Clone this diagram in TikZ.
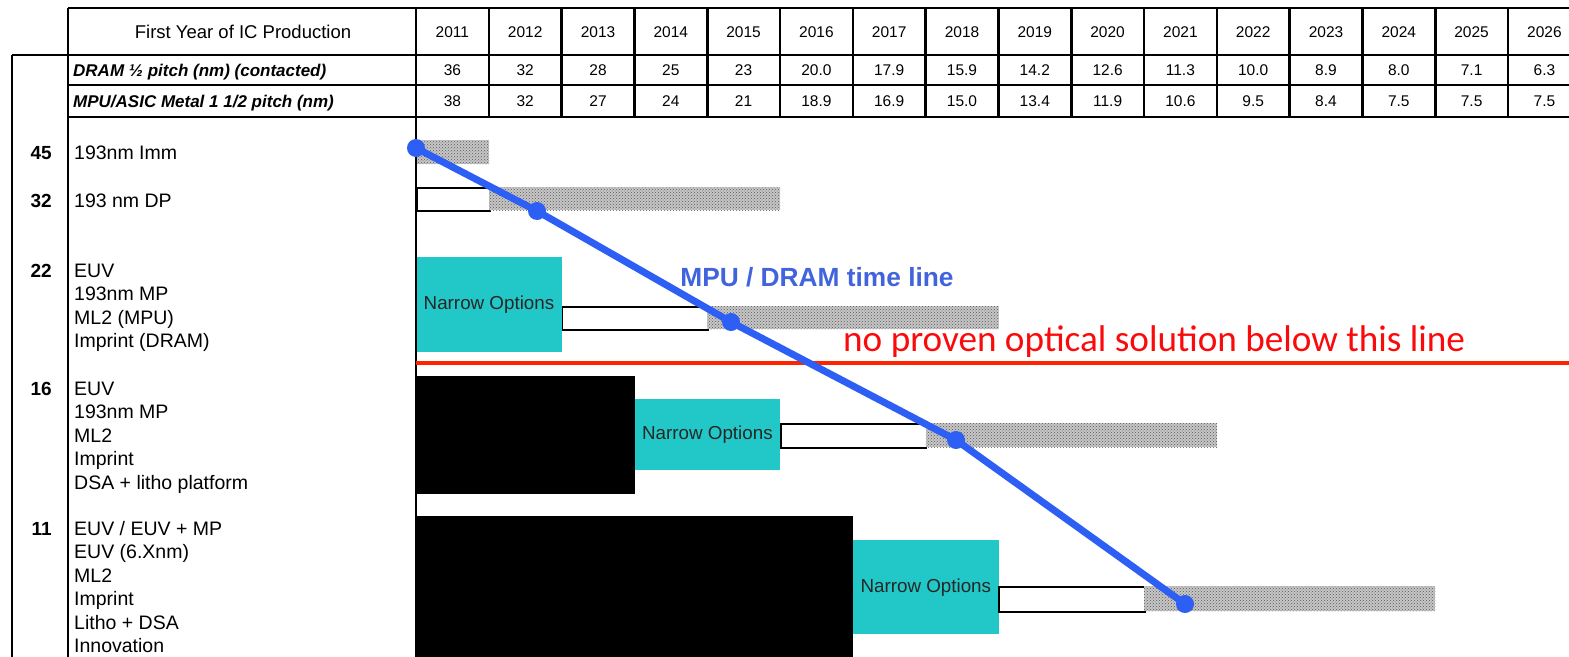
\documentclass[tikz,border=0pt]{standalone}
\usepackage{fontspec}
\setmainfont{Liberation Sans}
\newfontfamily\calib{Carlito}
\usetikzlibrary{patterns}

\definecolor{tealbox}{RGB}{34,200,200}
\definecolor{tlblue}{RGB}{45,95,245}
\definecolor{tltext}{RGB}{65,100,220}
\definecolor{limitred}{RGB}{255,35,0}
\definecolor{limittext}{RGB}{250,10,10}

\tikzset{
  grid/.style={line width=2.6pt},
  cell/.style={font=\fontsize{15.5}{18}\selectfont, inner sep=0},
  rowhead/.style={font=\fontsize{17}{19}\selectfont\bfseries\itshape, anchor=base west, inner sep=0},
  tech/.style={font=\fontsize{19.5}{23}\selectfont, anchor=base west, inner sep=0},
  num/.style={font=\fontsize{19}{23}\selectfont\bfseries, anchor=base east, inner sep=0},
  narrow/.style={fill=tealbox, minimum width=145.6pt, anchor=north west, inner sep=0,
                 font=\fontsize{18.8}{20}\selectfont, text=black!85},
  pending/.style={draw, line width=1.8pt, fill=white, minimum width=145.6pt,
                  anchor=north west, inner sep=0},
  hatch/.style={preaction={fill=gray!45}, pattern=crosshatch dots, pattern color=gray!70!black,
                minimum width=291.2pt, anchor=north west, inner sep=0},
  solid/.style={fill=black, anchor=north west, inner sep=0},
  dot/.style={circle, fill=tlblue, minimum size=18pt, inner sep=0},
  timeline/.style={tlblue, line width=7pt},
}

\begin{document}
\begin{tikzpicture}[x=1pt, y=-1pt]
\useasboundingbox (0,0) rectangle (1569,656);
\clip (0,0) rectangle (1569,656);

% ---------- header table ----------
\node[cell, font=\fontsize{18.5}{20}\selectfont] (hdr) at (243,32) {First Year of IC Production};
\node[rowhead] (dram) at (73,76) {DRAM \textonehalf\ pitch (nm) (contacted)};
\node[rowhead] (mpu) at (73,107) {MPU/ASIC Metal 1 1/2 pitch (nm)};

\foreach \yr [count=\i from 0] in {2011,2012,2013,2014,2015,2016,2017,2018,2019,2020,2021,2022,2023,2024,2025,2026}
  \node[cell] (yr\i) at ({416+(\i+0.5)*72.8},32) {\yr};
\foreach \v [count=\i from 0] in {36,32,28,25,23,20.0,17.9,15.9,14.2,12.6,11.3,10.0,8.9,8.0,7.1,6.3}
  \node[cell] (dr\i) at ({416+(\i+0.5)*72.8},70) {\v};
\foreach \v [count=\i from 0] in {38,32,27,24,21,18.9,16.9,15.0,13.4,11.9,10.6,9.5,8.4,7.5,7.5,7.5}
  \node[cell] (mp\i) at ({416+(\i+0.5)*72.8},101) {\v};

\draw[grid] (68,8) -- (1600,8);
\draw[grid] (12,55) -- (1600,55);
\draw[grid] (68,85) -- (1600,85);
\draw[grid] (68,117) -- (1600,117);
\foreach \i in {1,...,16}
  \draw[grid] ({416+\i*72.8},8) -- ({416+\i*72.8},117);
\draw[grid] (12,55) -- (12,660);
\draw[grid] (68,8) -- (68,660);

% ---------- technology options ----------
\node[num] (n45) at (52,159) {45};
\node[tech] (t45) at (74,159) {193nm Imm};
\node[num] (n32) at (52,207) {32};
\node[tech] (t32) at (74,207) {193 nm DP};

\node[num] (n22) at (52,277) {22};
\foreach \t [count=\j from 0] in {EUV,193nm MP,ML2 (MPU),Imprint (DRAM)}
  \node[tech] (t22-\j) at (74,{277+23.5*\j}) {\t};

\node[num] (n16) at (52,395) {16};
\foreach \t [count=\j from 0] in {EUV,193nm MP,ML2,Imprint,DSA + litho platform}
  \node[tech] (t16-\j) at (74,{395+23.5*\j}) {\t};

\node[num] (n11) at (52,535) {11};
\foreach \t [count=\j from 0] in {EUV / EUV + MP,EUV (6.Xnm),ML2,Imprint,Litho + DSA,Innovation}
  \node[tech] (t11-\j) at (74,{535+23.5*\j}) {\t};

% ---------- bars ----------
% 45 nm
\node[hatch, minimum width=72.8pt, minimum height=24pt] (g45) at (416,140) {};
% 32 nm
\node[pending, minimum width=72.8pt, minimum height=23pt] (w32) at (416,187) {};
\node[hatch, minimum height=23pt] (g32) at (488.8,187) {};
% 22 nm
\node[narrow, minimum height=95pt] (o22) at (416,257) {Narrow Options};
\node[pending, minimum height=23pt] (w22) at (561.6,306) {};
\node[hatch, minimum height=23pt] (g22) at (707.2,306) {};
% 16 nm
\node[solid, minimum width=218.4pt, minimum height=118pt] (b16) at (416,376) {};
\node[narrow, minimum height=71pt] (o16) at (634.4,399) {Narrow Options};
\node[pending, minimum height=24pt] (w16) at (780,423) {};
\node[hatch, minimum height=24pt] (g16) at (925.6,423) {};
% 11 nm
\node[solid, minimum width=436.8pt, minimum height=160pt] (b11) at (416,516) {};
\node[narrow, minimum height=94pt] (o11) at (852.8,540) {Narrow Options};
\node[pending, minimum height=25pt] (w11) at (998.4,586) {};
\node[hatch, minimum height=25pt] (g11) at (1144,586) {};

% chart axis
\draw[grid] (416,8) -- (416,660);

% ---------- optical limit ----------
\coordinate (lim0) at (416,363);
\coordinate (lim1) at (1575,363);
\draw[limitred, line width=4pt] (lim0) -- (lim1);
\node[anchor=base west, inner sep=0, text=limittext, font=\calib\fontsize{37.2}{42}\selectfont]
  (limtxt) at (843,351) {no proven optical solution below this line};

% ---------- MPU / DRAM time line ----------
\node[dot] (d1) at (416,148) {};
\node[dot] (d2) at (537,211) {};
\node[dot] (d3) at (731,322) {};
\node[dot] (d4) at (956,440) {};
\node[dot] (d5) at (1185,604) {};
\draw[timeline] (d1.center) -- (d2.center) -- (d3.center) -- (d4.center) -- (d5.center);
\node[inner sep=0, text=tltext, font=\fontsize{26.3}{30}\selectfont\bfseries] (tl) at (817,277) {MPU / DRAM time line};

\end{tikzpicture}
\end{document}
